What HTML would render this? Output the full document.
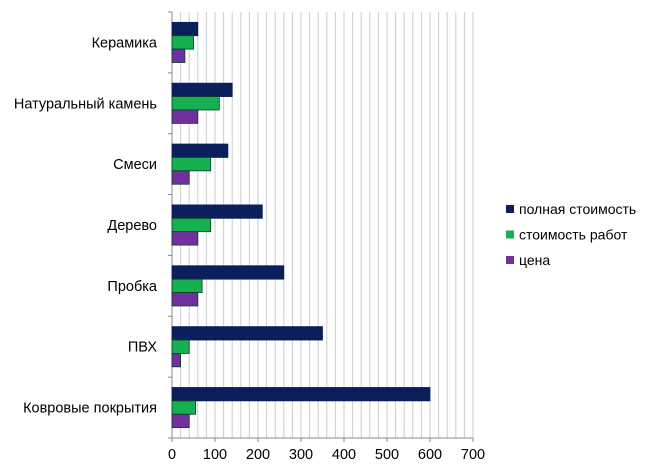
<!DOCTYPE html>
<html><head><meta charset="utf-8"><style>
body{margin:0;background:#fff;font-family:"Liberation Sans",sans-serif;}
</style></head><body>
<svg id="c" width="669" height="466" xmlns="http://www.w3.org/2000/svg" style="font-family:'Liberation Sans',sans-serif"></svg>
<script>
const categories=["Керамика","Натуральный камень","Смеси","Дерево","Пробка","ПВХ","Ковровые покрытия"];
const fullCost=[60,140,130,210,260,350,600];
const workCost=[50,110,90,90,70,40,55];
const price=[30,60,40,60,60,20,40];
const ticks=[0,100,200,300,400,500,600,700];
const seriesNames=["полная стоимость","стоимость работ","цена"];
const colors=["#0b1f5c","#16b050","#7030a0"];
const NS="http://www.w3.org/2000/svg",svg=document.getElementById('c');
const x0=172,x1=473,y0=12,y1=438,max=700;
const X=v=>x0+(v/max)*(x1-x0);
const band=(y1-y0)/categories.length;
function el(t,a,p){const e=document.createElementNS(NS,t);for(const k in a)e.setAttribute(k,a[k]);(p||svg).appendChild(e);return e;}
for(let v=20;v<=max;v+=20){const g=el('line',{x1:X(v),x2:X(v),y1:y0,y2:y1,stroke:'#c8cfd2','stroke-width':1});

}
const ax=el('line',{x1:x0,x2:x0,y1:y0,y2:y1,stroke:'#888'});
const bx=el('line',{x1:x0,x2:x1,y1:y1,y2:y1,stroke:'#888'});
ticks.forEach(t=>{el('line',{x1:X(t),x2:X(t),y1:y1,y2:y1+4,stroke:'#888'});
const tx=el('text',{x:X(t),y:y1+21,'text-anchor':'middle','font-size':14.5,fill:'#000'});tx.textContent=t;

});
for(let i=0;i<=categories.length;i++)el('line',{x1:x0-4,x2:x0,y1:y0+i*band,y2:y0+i*band,stroke:'#888'});
const series=[fullCost,workCost,price];const bh=13.4;
categories.forEach((c,i)=>{const cy=y0+i*band+band/2;
const lb=el('text',{x:157,y:cy+5,'text-anchor':'end','font-size':14.5,fill:'#000'});lb.textContent=c;


series.forEach((s,j)=>{const r=el('rect',{x:x0,y:cy-1.5*bh+j*bh,width:X(s[i])-x0,height:bh,fill:colors[j],stroke:j==0?'#0b1f5c':'#0a3d1f','stroke-width':0.8});

});});
seriesNames.forEach((n,j)=>{const y=209+j*25.5;
const sq=el('rect',{x:506,y:y-4,width:8,height:8,fill:colors[j]});


const t=el('text',{x:519,y:y+5,'font-size':14,fill:'#000'});t.textContent=n;

});
</script>
</body></html>
